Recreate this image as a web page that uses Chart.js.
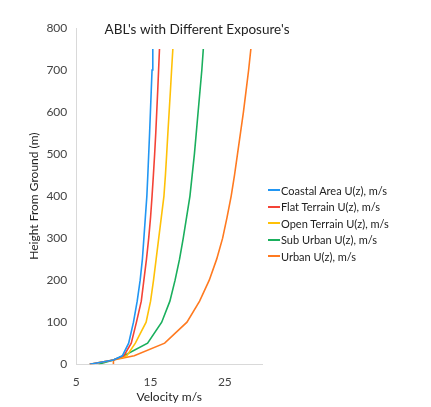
<!DOCTYPE html>
<html>
<head>
<meta charset="utf-8">
<script src="https://cdn.jsdelivr.net/npm/chart.js@4.4.0/dist/chart.umd.min.js"></script>
<style>
  html, body { margin: 0; padding: 0; background: #ffffff; }
  #wrap { position: relative; width: 431px; height: 407px; }
  #legend { position: absolute; left: 268px; top: 182px; margin: 0; padding: 0; list-style: none;
            font-family: Lato, sans-serif; font-size: 11px; color: #222222; }
  #legend li { display: flex; align-items: center; height: 16.5px; white-space: nowrap; }
  #legend .swatch { display: inline-block; width: 12px; height: 0; border-top: 2px solid; margin-right: 1px; }
</style>
</head>
<body>
<div id="wrap">
  <canvas id="ablChart" width="431" height="407"></canvas>
  <ul id="legend"></ul>
</div>
<script>
// heights (m) and velocities (m/s)
const heights = [0, 10, 20, 50, 100, 150, 200, 250, 300, 350, 400, 450, 500, 550, 600, 650, 700, 750];
const coastal = [6.8, 10, 11.2, 12.05, 12.7, 13.2, 13.6, 13.9, 14.1, 14.3, 14.5, 14.63, 14.75, 14.87, 14.98, 15.09, 15.2, 15.3];
const flat = [6.8, 10, 11.4, 12.4, 13.1, 13.75, 14.1, 14.45, 14.75, 15.0, 15.2, 15.38, 15.55, 15.7, 15.83, 15.96, 16.08, 16.2];
const open = [6.8, 10, 11.8, 12.95, 14.4, 15.0, 15.4, 15.75, 16.1, 16.45, 16.8, 17.0, 17.17, 17.33, 17.5, 17.67, 17.83, 18.0];
const subUrban = [8.0, 10, 11.4, 14.6, 16.5, 17.6, 18.3, 18.9, 19.4, 19.85, 20.3, 20.6, 20.9, 21.15, 21.4, 21.65, 21.9, 22.1];
const urban = [10, 10, 12.8, 16.9, 19.9, 21.6, 22.9, 23.9, 24.7, 25.3, 25.85, 26.3, 26.7, 27.1, 27.5, 27.85, 28.2, 28.5];

const seriesNames = ['Coastal Area U(z), m/s', 'Flat Terrain U(z), m/s', 'Open Terrain U(z), m/s', 'Sub Urban U(z), m/s', 'Urban U(z), m/s'];
const seriesColors = ['#2196F3', '#F44336', '#FFC107', '#1AAF5D', '#FF7A20'];
const xTicks = [5, 15, 25];
const yTicks = [0, 100, 200, 300, 400, 500, 600, 700, 800];

const chartTitle = "ABL's with Different Exposure's";

function toPoints(values) {
    return values.map((v, i) => ({ x: v, y: heights[i] }));
}

const allSeries = [coastal, flat, open, subUrban, urban];

const titlePlugin = {
    id: 'insideTitle',
    afterDraw: (chart) => {
        const { ctx } = chart;
        ctx.save();
        ctx.font = '13.5px Lato';
        ctx.fillStyle = '#222222';
        ctx.textAlign = 'center';
        ctx.textBaseline = 'middle';
        ctx.fillText(chartTitle, 197, 30);
        ctx.restore();
    }
};

// legend as html list, filled from the chart's own datasets
const htmlLegend = {
    id: 'htmlLegend',
    afterUpdate: (chart) => {
        const ul = document.getElementById('legend');
        ul.innerHTML = '';
        chart.data.datasets.forEach(ds => {
            const li = document.createElement('li');
            const sw = document.createElement('span');
            sw.className = 'swatch';
            sw.style.borderTopColor = ds.borderColor;
            li.appendChild(sw);
            li.appendChild(document.createTextNode(ds.label));
            ul.appendChild(li);
        });
    }
};

const ctx = document.getElementById('ablChart').getContext('2d');
const ablChart = new Chart(ctx, {
    type: 'scatter',
    data: {
        datasets: allSeries.map((vals, i) => ({
            label: seriesNames[i],
            data: toPoints(vals),
            borderColor: seriesColors[i],
            backgroundColor: seriesColors[i],
            borderWidth: 1.6,
            pointRadius: 0,
            showLine: true,
            tension: 0
        }))
    },
    options: {
        responsive: false,
        animation: false,
        layout: { padding: { top: 28, right: 169, left: 27, bottom: 0 } },
        plugins: {
            legend: { display: false },
            tooltip: { enabled: false }
        },
        scales: {
            x: {
                type: 'linear',
                min: 5,
                max: 30,
                afterBuildTicks: (axis) => { axis.ticks = xTicks.map(v => ({ value: v })); },
                grid: { display: false, drawTicks: false },
                border: { display: true, color: '#d9d9d9' },
                ticks: { color: '#444444', font: { family: 'Lato', size: 12 }, padding: 11 },
                title: { display: true, text: 'Velocity m/s', color: '#222222', font: { family: 'Lato', size: 12 }, padding: { top: -11, bottom: 3 } }
            },
            y: {
                type: 'linear',
                min: 0,
                max: 800,
                afterBuildTicks: (axis) => { axis.ticks = yTicks.map(v => ({ value: v })); },
                grid: { display: false, drawTicks: false },
                border: { display: true, color: '#d9d9d9' },
                ticks: { color: '#444444', font: { family: 'Lato', size: 12 }, padding: 9 },
                title: { display: true, text: 'Height From Ground (m)', color: '#222222', font: { family: 'Lato', size: 12 }, padding: { top: 0, bottom: -4 } }
            }
        }
    },
    plugins: [titlePlugin, htmlLegend]
});
</script>
</body>
</html>
